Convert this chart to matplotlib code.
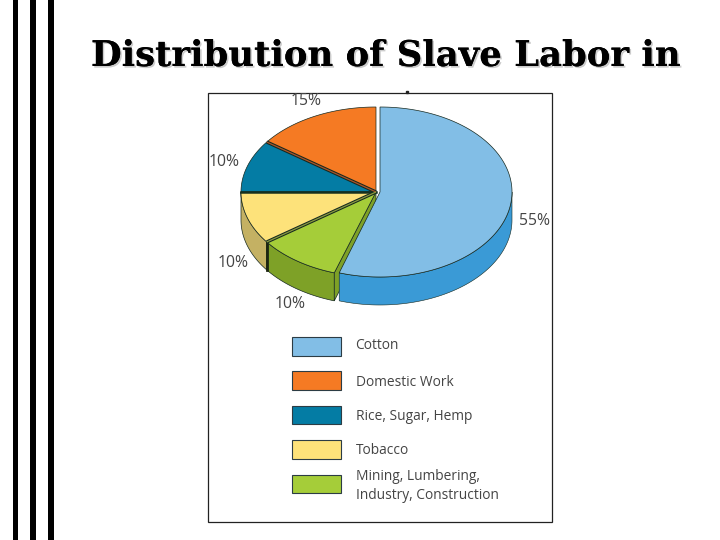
import numpy as np
import matplotlib
matplotlib.use("Agg")
import matplotlib.pyplot as plt
import matplotlib.patheffects as pe
from matplotlib.patches import Rectangle

title = "Distribution of Slave Labor in"
categories = ["Cotton", "Domestic Work", "Rice, Sugar, Hemp", "Tobacco",
              "Mining, Lumbering,\nIndustry, Construction"]
shares = [55, 15, 10, 10, 10]
top_colors = ["#82bee6", "#f57a23", "#047ca4", "#fde27a", "#a5cd39"]
side_colors = ["#3a9ad6", "#a8552a", "#035f7e", "#c4b163", "#7ea127"]

W, H = 720, 540
cx, cy = 376, 192    # centre of the pie top
rx, ry = 135, 85
depth = 28
cotton_dx = 4        # cotton slice is pulled out a little
cotton_rx = 132
edge = "#15281f"

fig = plt.figure(figsize=(7.2, 5.4), dpi=100)
ax = fig.add_axes([0, 0, 1, 1])
ax.set_xlim(0, W)
ax.set_ylim(H, 0)
ax.axis("off")

# stripes on the slide
for x0, w in [(12.5, 5), (30, 6), (48, 5.5)]:
    ax.add_patch(Rectangle((x0, 0), w, H, color="black", lw=0))

ax.text(386, 56, title, ha="center", va="center", family="DejaVu Serif",
        weight="bold", fontsize=25.5, color="black",
        path_effects=[pe.withSimplePatchShadow(offset=(1.2, -1.2), shadow_rgbFace="#aaaaaa", alpha=0.6),
                      pe.Normal()])

# picture frame
ax.add_patch(Rectangle((208, 93), 344, 429, fc="white", ec="#222222", lw=0.9, zorder=1))
ax.plot([407], [91.5], marker="s", ms=1.5, color="#222222", zorder=1)


def rim(a0, a1, x0=cx, r=rx, n=120):
    t = np.radians(np.linspace(a0, a1, n))
    return x0 + r * np.cos(t), cy - ry * np.sin(t)


# slice angles, going round from the top
angles = {}
# cotton runs clockwise from 90, the rest counter clockwise
end = 90 - shares[0] * 3.6
angles[0] = (end, 90)
a = 90
for i in range(1, 5):
    angles[i] = (a, a + shares[i] * 3.6)
    a += shares[i] * 3.6

# side walls of the visible slices, back to front
for i in [3, 4]:
    a0, a1 = angles[i]
    xs, ys = rim(a0, a1)
    ax.fill(np.r_[xs, xs[::-1]], np.r_[ys, ys[::-1] + depth],
            fc=side_colors[i], ec=edge, lw=0.5, zorder=3)
# dark seam between tobacco and mining walls
xs, ys = rim(angles[4][0], angles[4][0], n=1)
ax.plot([xs[0], xs[0]], [ys[0], ys[0] + depth], color="#1c2410", lw=2, zorder=4)
# cut wall of the mining slice, seen beside cotton
xs, ys = rim(angles[4][1], angles[4][1], n=1)
ax.fill([cx, xs[0], xs[0], cx], [cy, ys[0], ys[0] + depth, cy + depth],
        fc=side_colors[4], ec=edge, lw=0.5, zorder=3)

# cotton wall
a0, a1 = angles[0][0], 0
xs, ys = rim(a0, a1, x0=cx + cotton_dx, r=cotton_rx)
ax.fill(np.r_[xs, xs[::-1]], np.r_[ys, ys[::-1] + depth],
        fc=side_colors[0], ec=edge, lw=0.4, zorder=5)

# top faces
for i in range(5):
    x0 = cx + cotton_dx if i == 0 else cx
    r = cotton_rx if i == 0 else rx
    xs, ys = rim(angles[i][0], angles[i][1], x0=x0, r=r)
    ax.fill(np.r_[x0, xs], np.r_[cy, ys], fc=top_colors[i], ec=edge, lw=0.5, zorder=6)

# thick seams between slices
for i, color in [(2, side_colors[1]), (4, "#8a9a40")]:
    xs, ys = rim(angles[i][0], angles[i][0], n=1)
    ax.plot([cx, xs[0]], [cy, ys[0]], color=edge, lw=2.4, zorder=7, solid_capstyle="butt")
    ax.plot([cx, xs[0]], [cy, ys[0]], color=color, lw=0.9, zorder=8, solid_capstyle="butt")
xs, ys = rim(angles[3][0], angles[3][0], n=1)
ax.plot([cx, xs[0]], [cy, ys[0]], color="#14301f", lw=1.8, zorder=7)

# percent labels
label_pos = [(306, 101), (535, 221), (224, 162), (233, 263), (290, 304)]
label_vals = [shares[1], shares[0], shares[2], shares[3], shares[4]]
for s, (x, y) in zip(label_vals, label_pos):
    ax.text(x, y, f"{s}%", ha="center", va="center", family="Open Sans",
            fontsize=11.3, color="#444444", zorder=9)

# legend
swatch_y = [337, 371, 405.5, 440, 474.5]
text_y = [345.5, 382, 416, 451, 486]
for c, col, y0, ty in zip(categories, top_colors, swatch_y, text_y):
    ax.add_patch(Rectangle((292, y0), 49, 18.5, fc=col, ec="#2c3c44", lw=0.8, zorder=3))
    ax.text(355.5, ty, c, ha="left", va="center", family="Open Sans", fontsize=9.9,
            color="#444444", linespacing=1.3, zorder=3)

fig.savefig("out.png", dpi=100, facecolor="white")
